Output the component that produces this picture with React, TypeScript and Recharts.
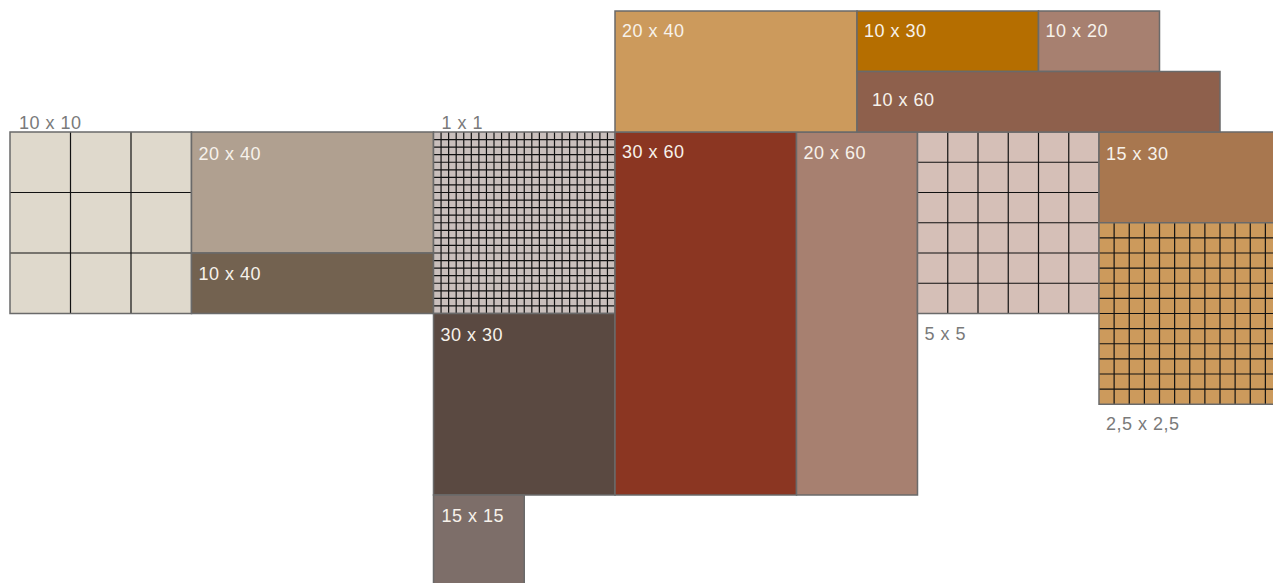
import React from 'react';
import { ComposedChart, XAxis, YAxis, ReferenceArea, Scatter } from 'recharts';

// Tile catalogue: label, position (in cm on the layout board), size, grid subdivision
const tileLabels = ['10 x 10', '20 x 40', '10 x 40', '1 x 1', '30 x 30', '15 x 15', '30 x 60', '20 x 60', '5 x 5', '15 x 30', '2,5 x 2,5', '20 x 40', '10 x 30', '10 x 20', '10 x 60'];
const tileLeft = [0, 30, 30, 70, 70, 70, 100, 130, 150, 180, 180, 100, 140, 170, 140];
const tileTop = [20, 20, 40, 20, 50, 80, 20, 20, 20, 20, 35, 0, 0, 0, 10];
const tileWidth = [30, 40, 40, 30, 30, 15, 30, 20, 30, 30, 30, 40, 30, 20, 60];
const tileHeight = [30, 20, 10, 30, 30, 15, 60, 60, 30, 15, 30, 20, 10, 10, 10];
const gridStep = [10, 0, 0, 1.25, 0, 0, 0, 0, 5, 0, 2.5, 0, 0, 0, 0];

// styles
const tileColors = ['#dfd9cc', '#b0a090', '#736250', '#c9bfbc', '#5a4941', '#7d6e69', '#8b3622', '#a78070', '#d5bfb7', '#a8774f', '#cc9a5c', '#cc9a5c', '#b56e00', '#a78070', '#8e604c'];
const labelPlace = ['above', 'inside', 'inside', 'above', 'inside', 'inside', 'inside', 'inside', 'below', 'inside', 'below', 'inside', 'inside', 'inside', 'inside'];
const labelDx = [9, 7, 7, 8, 7, 8, 7, 7, 7, 7, 7, 7, 7, 7, 15];
const labelDy = [-3, 28, 27, -3, 27, 27, 26, 27, 26, 28, 26, 26, 26, 26, 34];

const X_MAX = 1263 / 6.05;
const Y_MAX = 572 / 6.05;

const FONT = '"Helvetica Neue", "Liberation Sans", Arial, sans-serif';

function Tile(p: any) {
  const { x, y, width, height, i } = p;
  if (x == null || y == null) return <g />;
  const step = gridStep[i];
  const lines: any[] = [];
  if (step) {
    const nx = Math.round(tileWidth[i] / step);
    const ny = Math.round(tileHeight[i] / step);
    for (let k = 1; k < nx; k++) {
      const xx = x + (width * k) / nx;
      lines.push(<line key={'v' + k} x1={xx} x2={xx} y1={y} y2={y + height} stroke="#111" strokeWidth={1.2} />);
    }
    for (let k = 1; k < ny; k++) {
      const yy = y + (height * k) / ny;
      lines.push(<line key={'h' + k} x1={x} x2={x + width} y1={yy} y2={yy} stroke="#111" strokeWidth={1.2} />);
    }
  }
  const place = labelPlace[i];
  const tx = x + labelDx[i];
  const ty = place === 'below' ? y + height + labelDy[i] : y + labelDy[i];
  const inside = place === 'inside';
  return (
    <g>
      <rect x={x} y={y} width={width} height={height} fill={tileColors[i]} />
      {lines}
      <rect x={x} y={y} width={width} height={height} fill="none" stroke="#6a6a6a" strokeWidth={1.5} />
      <text
        x={tx}
        y={ty}
        fill={inside ? '#f7f2eb' : '#7a7a7a'}
        fontSize={18}
        letterSpacing={0.5}
        fontWeight={300}
        fontFamily={FONT}
      >
        {tileLabels[i]}
      </text>
    </g>
  );
}

const pts = tileLabels.map((l, i) => ({ x: tileLeft[i], y: tileTop[i], name: l }));

export default function App() {
  return (
    <div style={{ position: 'fixed', left: 0, top: 0, width: 1273, height: 583, overflow: 'hidden', background: '#fff' }}>
      <ComposedChart width={1273} height={583} data={pts} margin={{ top: 11, left: 10, right: 0, bottom: 0 }}>
        <XAxis type="number" dataKey="x" domain={[0, X_MAX]} hide allowDataOverflow />
        <YAxis type="number" dataKey="y" domain={[0, Y_MAX]} reversed hide allowDataOverflow />
        <Scatter data={pts} dataKey="y" isAnimationActive={false} shape={() => <g />} />
        {tileLabels.map((l, i) => (
          <ReferenceArea
            key={i}
            x1={tileLeft[i]}
            x2={tileLeft[i] + tileWidth[i]}
            y1={tileTop[i]}
            y2={tileTop[i] + tileHeight[i]}
            ifOverflow="visible"
            isFront
            shape={(props: any) => <Tile {...props} i={i} />}
          />
        ))}
      </ComposedChart>
    </div>
  );
}
